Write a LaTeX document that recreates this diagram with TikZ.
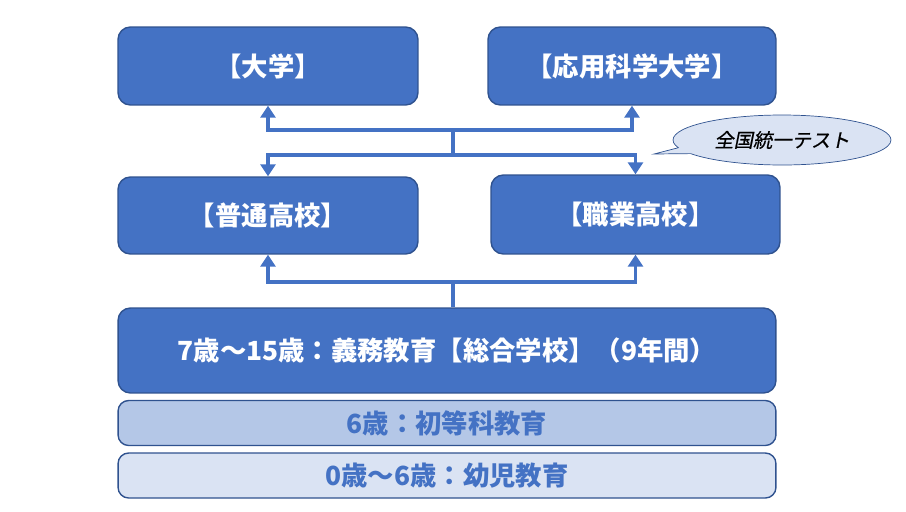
\documentclass[tikz,border=0pt]{standalone}
\usepackage{fontspec}
\setmainfont{Noto Sans CJK JP}
\newfontfamily\slantcjk[FakeSlant=0.2,FakeBold=0.6]{Noto Sans CJK JP}
\usetikzlibrary{arrows.meta,shapes.callouts}
\definecolor{boxblue}{HTML}{4472C4}
\definecolor{edgeblue}{HTML}{2F528F}
\definecolor{midblue}{HTML}{B4C7E7}
\definecolor{paleblue}{HTML}{DAE3F3}

\begin{document}
\begin{tikzpicture}[x=0.02cm,y=-0.02cm,
    schoolbox/.style={draw=edgeblue, thick, fill=boxblue, rounded corners=7pt, text=white, inner sep=0pt,
        font=\bfseries\fontsize{15}{18}\selectfont},
    agebox/.style={draw=edgeblue, thick, rounded corners=6pt, text=boxblue, inner sep=0pt,
        minimum width=13.16cm, minimum height=0.9cm, font=\bfseries\fontsize{15}{18}\selectfont},
    link/.style={draw=boxblue, line width=0.075cm},
    flow/.style={link, -{Triangle[length=0.24cm, width=0.3cm]}}]
    \useasboundingbox (0,0) rectangle (906,511);

    % 大学
    \node[schoolbox, minimum width=6cm, minimum height=1.56cm] (daigaku) at (268,66) {【大学】};
    \node[schoolbox, minimum width=5.76cm, minimum height=1.56cm] (oyo) at (632,66) {【応用科学大学】};
    % 高校
    \node[schoolbox, minimum width=6cm, minimum height=1.54cm] (futsu) at (268,215.5) {【普通高校】};
    \node[schoolbox, minimum width=5.78cm, minimum height=1.58cm] (shokugyo) at (635.5,214.5) {【職業高校】};
    % 義務教育
    \node[schoolbox, minimum width=13.16cm, minimum height=1.7cm] (gimu) at (447,350.5) {7歳～15歳：義務教育【総合学校】（9年間）};
    \node[agebox, fill=midblue] (shoto) at (447,423) {6歳：初等科教育};
    \node[agebox, fill=paleblue] (yoji) at (447,475.5) {0歳～6歳：幼児教育};

    \node[ellipse callout, draw=edgeblue, fill=paleblue, minimum width=4.36cm, minimum height=1cm,
        callout absolute pointer={(654,154)}, font=\slantcjk\fontsize{11}{13}\selectfont] (test) at (782,140) {全国統一テスト};

    % 接続
    \coordinate (upj) at (453,130);
    \coordinate (midj) at (453,155);
    \coordinate (lowj) at (453,282);
    \draw[link] (upj) -- (midj);
    \draw[flow] (upj) -| (daigaku.south);
    \draw[flow] (upj) -| (oyo.south);
    \draw[flow] (midj) -| (futsu.north);
    \draw[flow] (midj) -| (shokugyo.north);
    \draw[link] (gimu.north -| lowj) -- (lowj);
    \draw[flow] (lowj) -| (futsu.south);
    \draw[flow] (lowj) -| (shokugyo.south);
\end{tikzpicture}
\end{document}
